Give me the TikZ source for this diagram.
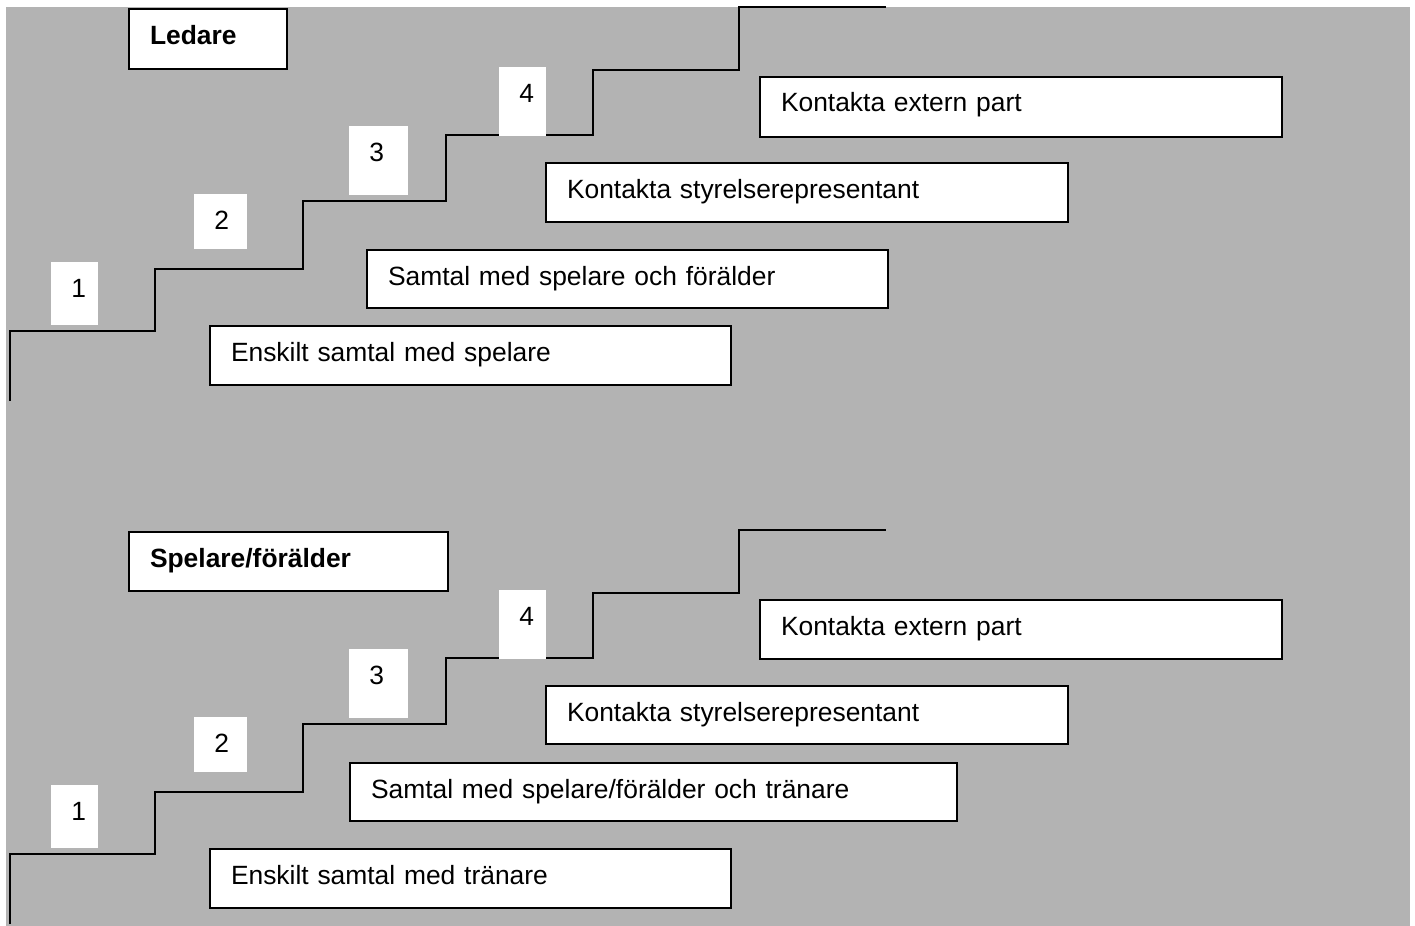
\documentclass[tikz,border=0pt]{standalone}
\usepackage{fontspec}
\setmainfont{Liberation Sans}
\definecolor{bggray}{RGB}{179,179,179}
\tikzset{
  lbox/.style={draw=black, line width=1pt, fill=white, anchor=north west,
    inner xsep=10.5pt, inner ysep=0pt, text height=17.5pt, align=left,
    font=\fontsize{13.2pt}{16pt}\selectfont},
  nbox/.style={draw=none, fill=white, anchor=north west,
    inner xsep=5pt, inner ysep=0pt, text height=17.5pt, align=left,
    font=\fontsize{13.2pt}{16pt}\selectfont},
  stair/.style={draw=black, line width=1pt}
}
\begin{document}
\begin{tikzpicture}[x=0.5pt,y=-0.5pt]
\useasboundingbox (0,0) rectangle (1415,926);
\fill[bggray] (6,7) rectangle (1410,926);

% ---------- top staircase ----------
\draw[stair] (10,401) -- (10,331) -- (155,331) -- (155,269) -- (303,269) -- (303,201)
  -- (446,201) -- (446,135) -- (593,135) -- (593,70) -- (739,70) -- (739,7) -- (886,7);

\node[nbox, text width=13.5pt, text depth=14pt] (t1) at (51,262) {\hspace*{5pt}1};
\node[nbox, text width=16.5pt, text depth=10pt] (t2) at (194,194) {\hspace*{5pt}2};
\node[nbox, text width=19.5pt, text depth=17pt] (t3) at (349,126) {\hspace*{5pt}3};
\node[nbox, text width=13.5pt, text depth=17pt] (t4) at (499,67) {\hspace*{5pt}4};

\node[lbox, text width=58pt, text depth=12.5pt] (tled) at (128,8) {\textbf{Ledare}};
\node[lbox, text width=240pt, text depth=12.5pt] (text) at (759,76) {Kontakta extern part};
\node[lbox, text width=240pt, text depth=12pt] (tsty) at (545,162) {Kontakta styrelserepresentant};
\node[lbox, text width=239.5pt, text depth=11.5pt] (tsam) at (366,249) {Samtal med spelare och förälder};
\node[lbox, text width=239.5pt, text depth=12pt] (tens) at (209,325) {Enskilt samtal med spelare};

% ---------- bottom staircase ----------
\draw[stair] (10,924) -- (10,854) -- (155,854) -- (155,792) -- (303,792) -- (303,724)
  -- (446,724) -- (446,658) -- (593,658) -- (593,593) -- (739,593) -- (739,530) -- (886,530);

\node[nbox, text width=13.5pt, text depth=14pt] (b1) at (51,785) {\hspace*{5pt}1};
\node[nbox, text width=16.5pt, text depth=10pt] (b2) at (194,717) {\hspace*{5pt}2};
\node[nbox, text width=19.5pt, text depth=17pt] (b3) at (349,649) {\hspace*{5pt}3};
\node[nbox, text width=13.5pt, text depth=17pt] (b4) at (499,590) {\hspace*{5pt}4};

\node[lbox, text width=138.5pt, text depth=12pt] (bspf) at (128,531) {\textbf{Spelare/förälder}};
\node[lbox, text width=240pt, text depth=12pt] (bext) at (759,599) {Kontakta extern part};
\node[lbox, text width=240pt, text depth=11.5pt] (bsty) at (545,685) {Kontakta styrelserepresentant};
\node[lbox, text width=282.5pt, text depth=11.5pt] (bsam) at (349,762) {Samtal med spelare/förälder och tränare};
\node[lbox, text width=239.5pt, text depth=12pt] (bens) at (209,848) {Enskilt samtal med tränare};
\end{tikzpicture}
\end{document}
